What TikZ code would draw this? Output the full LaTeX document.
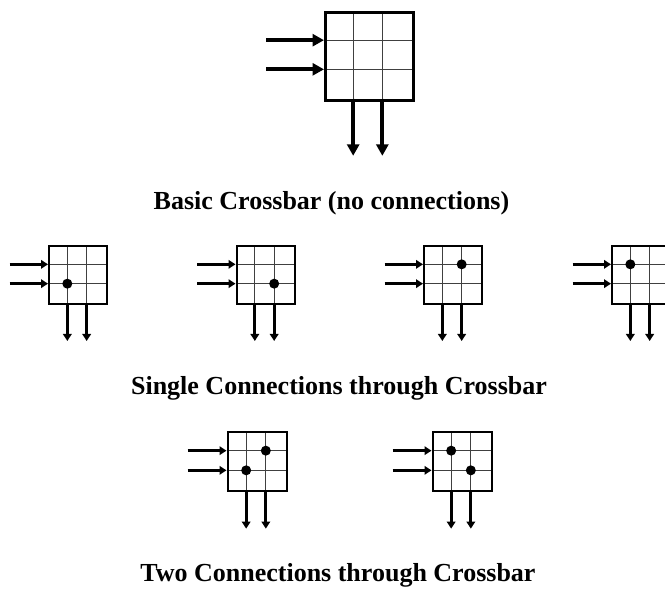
\documentclass[tikz,border=0pt]{standalone}
\usepackage{fontspec}
\setmainfont{Liberation Serif}
\usetikzlibrary{arrows.meta}
\tikzset{
  gridline/.style={line width=0.9pt, black!75},
  xbox/.style={draw, line width=#1, inner sep=0pt, anchor=north west},
  flow/.style={line width=#1},
  dot/.style={fill=black},
  title/.style={font=\bfseries\fontsize{26}{30}\selectfont, inner sep=0pt, anchor=base}
}
% #1 name, #2 left x, #3 top y, #4 size, #5 border width, #6 arrow width, #7 tip length, #8 tip width
\newcommand{\mycrossbar}[8]{%
  \begin{scope}[shift={(#2,#3)}]
    \draw[gridline] (#4/3,0) -- (#4/3,#4) (2*#4/3,0) -- (2*#4/3,#4)
                    (0,#4/3) -- (#4,#4/3) (0,2*#4/3) -- (#4,2*#4/3);
    \node[xbox=#5, minimum width=#4pt, minimum height=#4pt] (#1) at (0,0) {};
    \coordinate (#1-i1) at (-0.66*#4, #4/3);
    \coordinate (#1-i2) at (-0.66*#4, 2*#4/3);
    \coordinate (#1-a1) at (0, #4/3);
    \coordinate (#1-a2) at (0, 2*#4/3);
    \coordinate (#1-b1) at (#4/3, #4);
    \coordinate (#1-b2) at (2*#4/3, #4);
    \coordinate (#1-o1) at (#4/3, 1.655*#4);
    \coordinate (#1-o2) at (2*#4/3, 1.655*#4);
    \coordinate (#1-c11) at (#4/3, #4/3);
    \coordinate (#1-c21) at (2*#4/3, #4/3);
    \coordinate (#1-c12) at (#4/3, 2*#4/3);
    \coordinate (#1-c22) at (2*#4/3, 2*#4/3);
    \draw[flow=#6, -{Triangle[length=#7pt, width=#8pt]}] (#1-i1) -- (#1-a1);
    \draw[flow=#6, -{Triangle[length=#7pt, width=#8pt]}] (#1-i2) -- (#1-a2);
    \draw[flow=#6, -{Triangle[length=#7pt, width=#8pt]}] (#1-b1) -- (#1-o1);
    \draw[flow=#6, -{Triangle[length=#7pt, width=#8pt]}] (#1-b2) -- (#1-o2);
  \end{scope}}
\begin{document}
\begin{tikzpicture}[x=1pt, y=-1pt]
  \clip (0,0) rectangle (665,589);
  \fill[white] (0,0) rectangle (665,589);
  \mycrossbar{big}{324}{11}{87.5}{3pt}{3.8pt}{11.5}{12}
  \mycrossbar{s1}{48}{245}{58}{2pt}{2.8pt}{7}{8.5}
  \mycrossbar{s2}{235.5}{245}{58}{2pt}{2.8pt}{7}{8.5}
  \mycrossbar{s3}{423}{245}{58}{2pt}{2.8pt}{7}{8.5}
  \mycrossbar{s4}{611}{245}{58}{2pt}{2.8pt}{7}{8.5}
  \mycrossbar{t1}{226.5}{431}{59}{2pt}{2.8pt}{7}{8.5}
  \mycrossbar{t2}{431.5}{431}{59}{2pt}{2.8pt}{7}{8.5}
  \fill[dot] (s1-c12) circle (5);
  \fill[dot] (s2-c22) circle (5);
  \fill[dot] (s3-c21) circle (5);
  \fill[dot] (s4-c11) circle (5);
  \fill[dot] (t1-c12) circle (5);
  \fill[dot] (t1-c21) circle (5);
  \fill[dot] (t2-c11) circle (5);
  \fill[dot] (t2-c22) circle (5);
  \node[title] (l1) at (331.5,209) {Basic Crossbar (no connections)};
  \node[title] (l2) at (339,394) {Single Connections through Crossbar};
  \node[title] (l3) at (338,581) {Two Connections through Crossbar};
\end{tikzpicture}
\end{document}
